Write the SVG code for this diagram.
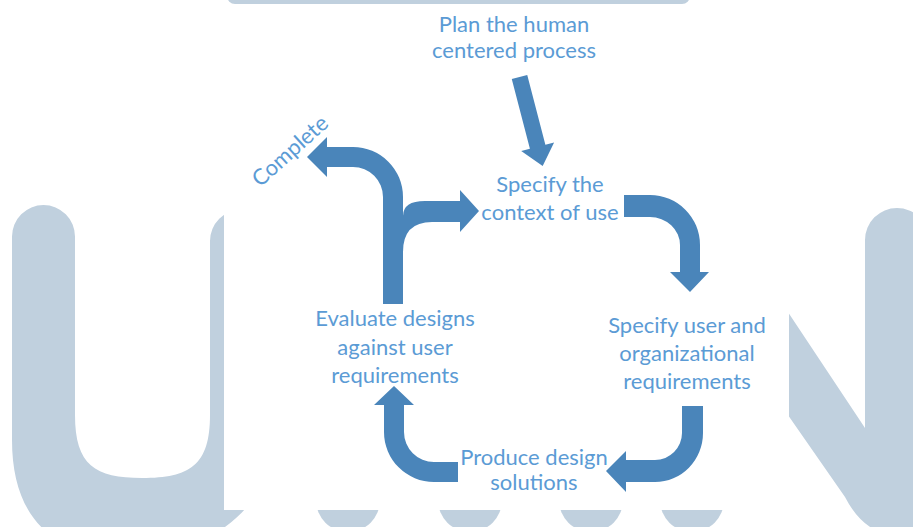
<svg xmlns="http://www.w3.org/2000/svg" width="913" height="527" viewBox="0 0 913 527">
  <style>
    .wm { fill: #C0D0DE; }
    .panel { fill: #FFFFFF; }
    .arrow { fill: #4A85BA; }
    .label { font-family: Lato, "Liberation Sans", sans-serif; font-size: 22px; fill: #5B9BD5; text-anchor: middle; }
  </style>

  <rect width="913" height="527" fill="#FFFFFF"/>

  <!-- background watermark lettering -->
  <g id="watermark">
    <!-- U -->
    <path class="wm" d="M12,236.5 A31.5,31.5 0 0 1 75,236.5 L75,415 C75,465 95,478 142,478 C190,478 210,465 210,415 L210,241 A31.5,31.5 0 0 1 273,241 L273,430 C273,490 240,540 142,560 C55,560 12,520 12,440 Z"/>
    <!-- N -->
    <path class="wm" d="M740,240 L865,428 L865,240 A32,32 0 0 1 929,240 L929,535 L890,535 Q862,530 845,497 L740,346 Z"/>
    <!-- bar along the top edge -->
    <rect class="wm" x="227" y="-20" width="463" height="24" rx="8"/>
    <!-- row of rounded shapes along the bottom edge -->
    <circle class="wm" cx="348" cy="500" r="32"/>
    <circle class="wm" cx="470" cy="500" r="32"/>
    <circle class="wm" cx="591" cy="500" r="32"/>
    <circle class="wm" cx="692" cy="500" r="32"/>
  </g>

  <!-- white diagram panel -->
  <rect class="panel" x="224" y="4" width="565" height="506"/>

  <g id="connectors">
    <!-- plan -> context of use -->
    <path id="arrow-plan" class="arrow" transform="translate(519.5,77) rotate(-14.6)" d="M-8,0 L8,0 L8,72 L17,72 L0,92 L-17,72 L-8,72 Z"/>
    <!-- context of use -> user requirements -->
    <path id="arrow-context" class="arrow" d="M624,195 L650,195 A50,50 0 0 1 700,245 L700,272 L709,272 L690,292 L670,272 L680,272 L680,245 A30,28 0 0 0 650,217 L624,217 Z"/>
    <!-- user requirements -> design solutions -->
    <path id="arrow-requirements" class="arrow" d="M682,406 L703,406 L703,433 A48,49 0 0 1 655,482 L626,482 L626,492 L606,471 L626,451 L626,460 L655,460 A27,27 0 0 0 682,433 Z"/>
    <!-- design solutions -> evaluate -->
    <path id="arrow-produce" class="arrow" d="M458,462 L434,462 A30,30 0 0 1 404,432 L404,405 L414,405 L394,386 L374,405 L384,405 L384,432 A50,50 0 0 0 434,482 L458,482 Z"/>
    <!-- evaluate -> complete -->
    <path id="arrow-complete" class="arrow" d="M383,304 L383,197 A30,30 0 0 0 353,167 L327,167 L327,177 L307,157 L327,137 L327,147 L353,147 A50,50 0 0 1 403,197 L403,304 Z"/>
    <!-- evaluate -> context of use (iteration branch) -->
    <path id="arrow-iterate" class="arrow" d="M403,252 Q403,222 432,222 L460,222 L460,232 L479,211 L460,190 L460,201 L425,201 Q403,201 403,216 Z"/>
  </g>

  <g id="node-plan">
    <text class="label" x="514" y="31.5">Plan the human</text>
    <text class="label" x="514" y="58">centered process</text>
  </g>
  <g id="node-context">
    <text class="label" x="550" y="192">Specify the</text>
    <text class="label" x="550" y="220">context of use</text>
  </g>
  <g id="node-requirements">
    <text class="label" x="687" y="333">Specify user and</text>
    <text class="label" x="687" y="361">organizational</text>
    <text class="label" x="687" y="389">requirements</text>
  </g>
  <g id="node-produce">
    <text class="label" x="534" y="465">Produce design</text>
    <text class="label" x="534" y="490">solutions</text>
  </g>
  <g id="node-evaluate">
    <text class="label" x="395" y="326">Evaluate designs</text>
    <text class="label" x="395" y="355">against user</text>
    <text class="label" x="395" y="383">requirements</text>
  </g>
  <g id="node-complete">
    <text class="label" transform="translate(291,152) rotate(-42)" x="0" y="6">Complete</text>
  </g>
</svg>
